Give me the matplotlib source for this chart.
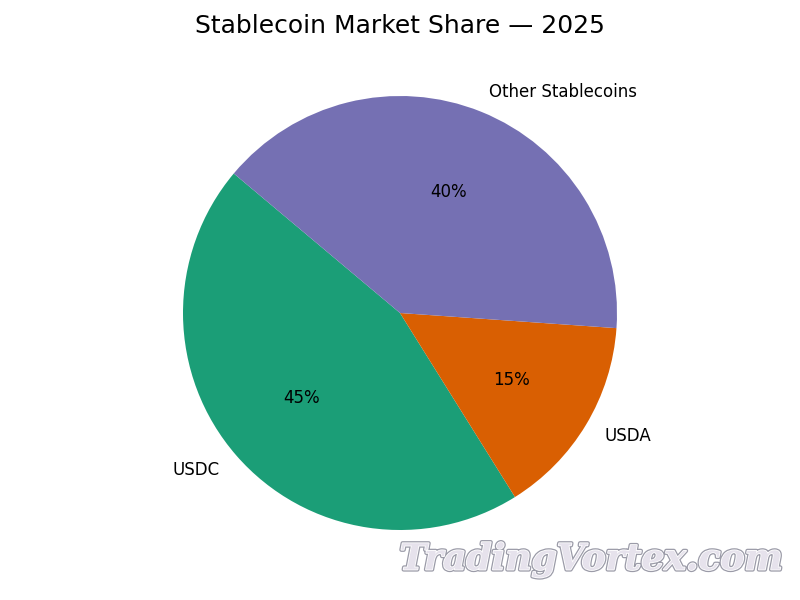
import matplotlib
matplotlib.use("Agg")
import matplotlib.pyplot as plt
import matplotlib.patheffects as pe

labels = ["USDC", "USDA", "Other Stablecoins"]
shares = [45, 15, 40]
colors = ["#1b9e77", "#d95f02", "#7570b3"]

fig = plt.figure(figsize=(8, 6), dpi=100)
H = 542.5
ax = fig.add_axes([(400 - H / 2) / 800, (600 - 313 - H / 2) / 600, H / 800, H / 600])
ax.pie(shares, labels=labels, colors=colors, autopct="%1.0f%%",
       startangle=140, textprops={"fontsize": 12})
ax.set_xlim(-1.25, 1.25)
ax.set_ylim(-1.25, 1.25)
ax.set_aspect("equal", adjustable="box")
fig.text(0.5, 1 - 26 / 600, "Stablecoin Market Share — 2025", ha="center",
         va="center", fontsize=18)

fig.text(0.739, 0.067, "TradingVortex.com", ha="center", va="center",
         fontsize=26, family="DejaVu Serif", style="italic", weight="bold",
         color="#e6e2ec",
         path_effects=[pe.Stroke(linewidth=3, foreground="#9b9ba8"),
                       pe.Stroke(linewidth=1.2, foreground="#ffffff"),
                       pe.Normal()])

fig.savefig("out.png", dpi=100)
